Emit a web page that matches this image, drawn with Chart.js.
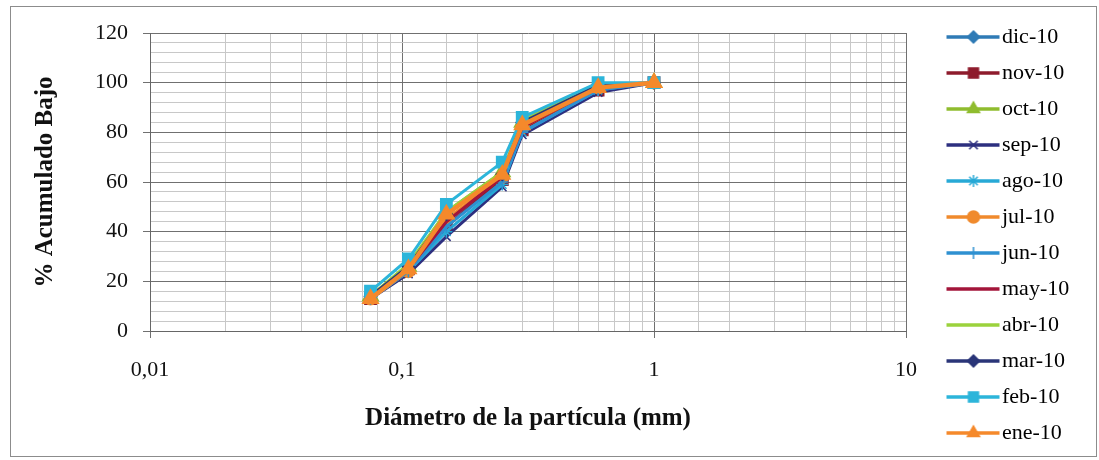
<!DOCTYPE html>
<html>
<head>
<meta charset="utf-8">
<script src="https://cdn.jsdelivr.net/npm/chart.js@4.4.1/dist/chart.umd.min.js"></script>
<style>
  html, body { margin: 0; padding: 0; background: #fff; }
  #wrap { width: 1099px; height: 460px; }
</style>
</head>
<body>
<div id="wrap"><canvas id="granChart" width="1099" height="460"></canvas></div>
<script>
// --- Datos (curvas granulométricas 2010) ---
const sizes = [0.075, 0.106, 0.15, 0.25, 0.3, 0.6, 1];
const months = ['dic-10', 'nov-10', 'oct-10', 'sep-10', 'ago-10', 'jul-10',
                'jun-10', 'may-10', 'abr-10', 'mar-10', 'feb-10', 'ene-10'];
const dic10 = [14, 25, 44, 61, 82, 98, 100];
const nov10 = [13, 25, 42, 61, 81, 97, 100];
const oct10 = [14, 26, 48, 64, 84, 98, 100];
const sep10 = [13, 23, 38, 58, 79, 96, 100];
const ago10 = [13, 24, 40, 59, 80, 97, 100];
const jul10 = [13, 24, 45, 62, 82, 98, 100];
const jun10 = [13, 24, 42, 60, 80, 97, 100];
const may10 = [13, 25, 44, 62, 82, 98, 100];
const abr10 = [14, 27, 48, 64, 85, 99, 100];
const mar10 = [14, 26, 47, 63, 84, 99, 100];
const feb10 = [16, 29, 51, 68, 86, 100, 100];
const ene10 = [13, 25, 47, 63, 83, 98, 100];
const yTicks = [0, 20, 40, 60, 80, 100, 120];
const xTickLabels = ['0,01', '0,1', '1', '10'];

const seriesValues = [dic10, nov10, oct10, sep10, ago10, jul10, jun10, may10, abr10, mar10, feb10, ene10];
const seriesColors = ['#2f7bb6', '#8e1b2c', '#8fbc2e', '#2d2f7f', '#27a9d6', '#f08a2c',
                      '#2e90d1', '#a3153a', '#9bd23c', '#2a3578', '#2cb5da', '#f5892b'];
const seriesMarkers = ['rectRot', 'rect', 'triangle', 'crossRot', 'star', 'circle',
                       'cross', false, false, 'rectRot', 'rect', 'triangle'];
const markerRadius = { rectRot: 6, rect: 8, triangle: 9, crossRot: 6, star: 6, circle: 6, cross: 6 };

const FONT = "'Liberation Serif', 'Times New Roman', serif";

// icono de leyenda: línea con marcador al centro
function makeLegendIcon(color, marker) {
    const c = document.createElement('canvas');
    c.width = 90;
    c.height = 20;
    const g = c.getContext('2d');
    g.strokeStyle = color;
    g.fillStyle = color;
    g.lineWidth = 3.5;
    g.beginPath();
    g.moveTo(36, 10);
    g.lineTo(89, 10);
    g.stroke();
    if (marker) {
        g.lineWidth = 1.5;
        const r = Math.min(markerRadius[marker], 7);
        if (Chart.helpers && Chart.helpers.drawPoint) {
            Chart.helpers.drawPoint(g, { pointStyle: marker, radius: r, borderWidth: 1.5, rotation: 0 }, 63, 10);
        } else {
            g.beginPath();
            g.arc(63, 10, r, 0, Math.PI * 2);
            g.fill();
        }
    }
    return c;
}

const legendIcons = months.map((m, i) => makeLegendIcon(seriesColors[i], seriesMarkers[i]));

const datasets = months.map((m, i) => ({
    label: m,
    data: sizes.map((s, j) => ({ x: s, y: seriesValues[i][j] })),
    borderColor: seriesColors[i],
    backgroundColor: seriesColors[i],
    pointBackgroundColor: seriesColors[i],
    pointBorderColor: seriesColors[i],
    borderWidth: m === 'ene-10' ? 4.5 : 3,
    pointStyle: seriesMarkers[i] || 'circle',
    pointRadius: seriesMarkers[i] ? markerRadius[seriesMarkers[i]] : 0,
    pointBorderWidth: 1.5,
    tension: 0,
    order: -i // ene-10 queda encima
}));

const isPow10 = (v) => {
    const l = Math.log10(v);
    return Math.abs(l - Math.round(l)) < 1e-6;
};

// marco exterior y fondo blanco
const framePlugin = {
    id: 'frame',
    beforeDraw(chart) {
        const ctx = chart.ctx;
        ctx.save();
        ctx.fillStyle = '#fff';
        ctx.fillRect(0, 0, chart.width, chart.height);
        ctx.strokeStyle = '#8c8c8c';
        ctx.lineWidth = 1;
        ctx.strokeRect(10.5, 6.5, 1086, 450);
        ctx.restore();
    }
};

new Chart(document.getElementById('granChart'), {
    type: 'line',
    data: { datasets: datasets },
    plugins: [framePlugin],
    options: {
        responsive: false,
        animation: false,
        layout: { padding: { left: 12, top: 11, right: 8, bottom: 1 } },
        plugins: {
            tooltip: { enabled: false },
            legend: {
                position: 'right',
                align: 'center',
                labels: {
                    usePointStyle: true,
                    pointStyleWidth: 71,
                    padding: 14,
                    color: '#111',
                    font: { family: FONT, size: 22 },
                    generateLabels: (chart) => chart.data.datasets.map((ds, i) => ({
                        text: ds.label,
                        datasetIndex: i,
                        pointStyle: legendIcons[i],
                        fillStyle: ds.borderColor,
                        strokeStyle: ds.borderColor,
                        lineWidth: 0,
                        hidden: !chart.isDatasetVisible(i)
                    }))
                }
            }
        },
        scales: {
            x: {
                type: 'logarithmic',
                min: 0.01,
                max: 10,
                afterFit: (s) => { s.height = 128; s.paddingRight = 193; },
                border: { color: '#666', width: 1 },
                grid: {
                    color: (c) => (c.tick && isPow10(c.tick.value)) ? '#707070' : '#c8c8c8',
                    tickColor: (c) => (c.tick && isPow10(c.tick.value)) ? '#707070' : 'rgba(0,0,0,0)',
                    tickLength: 7
                },
                ticks: {
                    autoSkip: false,
                    maxRotation: 0,
                    padding: 19,
                    color: '#111',
                    font: { family: FONT, size: 22 },
                    callback: (v) => {
                        if (!isPow10(v)) return '';
                        return xTickLabels[Math.round(Math.log10(v)) + 2];
                    }
                },
                title: {
                    display: true,
                    text: 'Diámetro de la partícula (mm)',
                    color: '#111',
                    font: { family: FONT, size: 25, weight: 'bold' },
                    padding: { top: 0, bottom: 25 }
                }
            },
            y: {
                min: 0,
                max: 120,
                afterFit: (s) => { s.width = 138; s.paddingTop = 33; },
                border: { color: '#666', width: 1 },
                grid: {
                    color: (c) => (c.tick && yTicks.includes(c.tick.value)) ? '#707070' : '#c8c8c8',
                    tickColor: (c) => (c.tick && yTicks.includes(c.tick.value)) ? '#707070' : 'rgba(0,0,0,0)',
                    tickLength: 7
                },
                ticks: {
                    stepSize: 4,
                    autoSkip: false,
                    padding: 15,
                    color: '#111',
                    font: { family: FONT, size: 22 },
                    callback: (v) => yTicks.includes(v) ? String(v) : ''
                },
                title: {
                    display: true,
                    text: '% Acumulado Bajo',
                    color: '#111',
                    font: { family: FONT, size: 25, weight: 'bold' },
                    padding: { top: 19, bottom: 0 }
                }
            }
        }
    }
});
</script>
</body>
</html>
